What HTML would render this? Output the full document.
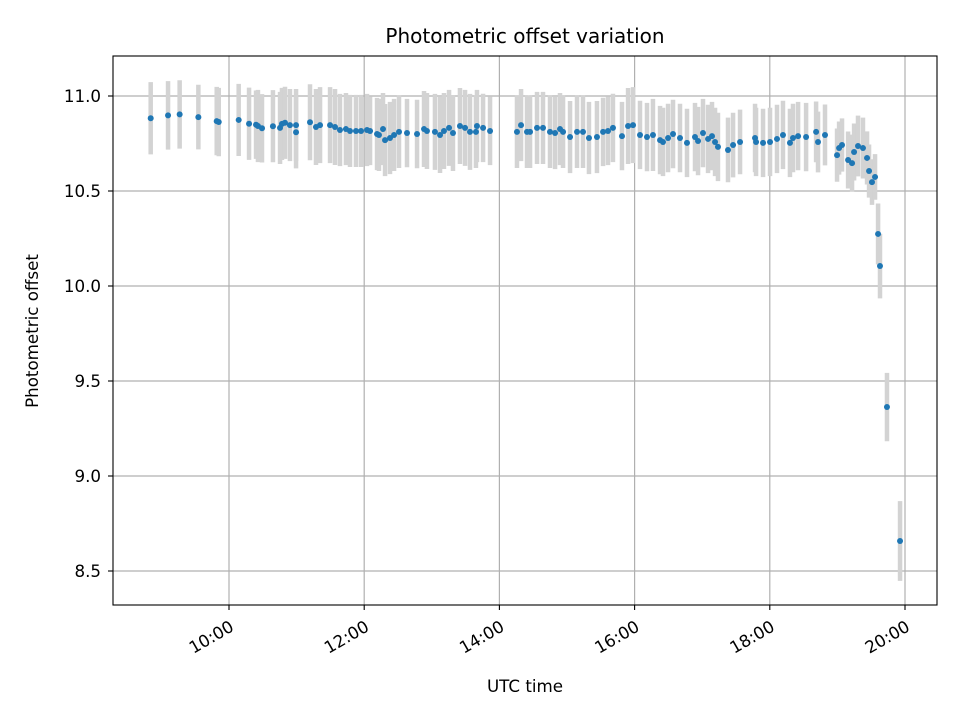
<!DOCTYPE html>
<html><head><meta charset="utf-8"><style>
body{margin:0;background:#fff}
svg{display:block;font-family:"DejaVu Sans","Liberation Sans",sans-serif}
</style></head><body>
<svg id="chart" width="960" height="720" viewBox="0 0 960 720" xmlns="http://www.w3.org/2000/svg">
<rect width="960" height="720" fill="#fff"/>
<g id="grid"></g>
<g id="errs"></g>
<g id="pts"></g>
<rect x="113" y="56" width="824" height="549" fill="none" stroke="#000" stroke-width="1.1"/>
<g id="ticks"></g>
<text x="525" y="43" text-anchor="middle" font-size="20">Photometric offset variation</text>
<text x="525" y="692" text-anchor="middle" font-size="16.7">UTC time</text>
<text transform="translate(38,331) rotate(-90)" text-anchor="middle" font-size="16.7">Photometric offset</text>
</svg>
<script>
// times in minutes since midnight UTC
const times=[530.5,545.9,556.2,572.8,589.1,590.9,608.6,617.8,624.0,625.7,629.3,639.0,645.3,647.0,649.7,654.1,659.5,659.5,671.9,677.2,680.8,689.7,694.1,698.5,703.8,707.4,712.7,717.2,722.5,
725.2,731.4,733.1,736.7,738.5,742.9,746.5,750.9,758.0,766.9,773.1,775.7,782.8,787.3,790.8,795.3,798.8,805.0,809.5,813.9,819.2,820.1,825.5,831.7,
855.6,859.2,864.5,867.2,873.4,878.7,884.9,889.4,893.8,896.5,902.7,908.9,914.2,919.5,926.6,932.0,936.4,940.8,948.8,954.2,958.6,964.8,
971.0,976.3,982.6,985.2,989.7,994.1,1000.3,1006.5,1013.6,1016.3,1020.7,1025.2,1028.7,1031.4,1034.0,1042.9,1047.4,1053.6,1066.9,1067.8,1074.0,1080.2,1086.4,1091.7,1097.9,1100.6,1105.1,1112.2,1121.1,1122.8,1129.0,
1139.7,1141.5,1144.1,1149.5,1153.0,1154.8,1158.3,1162.7,1166.3,1168.1,1170.7,1173.4,1176.1,1177.8,1184.0,1195.6];
const offsets=[10.883,10.898,10.903,10.889,10.868,10.863,10.874,10.854,10.849,10.842,10.830,10.841,10.832,10.853,10.859,10.847,10.847,10.809,10.862,10.837,10.847,10.847,10.837,10.821,10.826,10.816,10.816,10.816,10.821,
10.816,10.800,10.795,10.826,10.768,10.779,10.795,10.811,10.805,10.800,10.826,10.816,10.811,10.795,10.816,10.832,10.805,10.842,10.832,10.811,10.811,10.842,10.832,10.816,
10.811,10.847,10.811,10.811,10.832,10.832,10.811,10.805,10.826,10.811,10.784,10.811,10.811,10.779,10.784,10.811,10.816,10.832,10.789,10.842,10.847,10.795,
10.784,10.795,10.768,10.758,10.779,10.800,10.779,10.753,10.784,10.763,10.805,10.774,10.789,10.758,10.732,10.716,10.742,10.758,10.779,10.758,10.753,10.758,10.774,10.795,10.753,10.779,10.789,10.784,10.811,10.758,10.795,
10.689,10.726,10.742,10.663,10.647,10.705,10.737,10.726,10.674,10.605,10.547,10.574,10.274,10.105,9.363,8.658];
const errors=[0.19,0.18,0.18,0.17,0.18,0.18,0.19,0.19,0.18,0.19,0.18,0.19,0.19,0.19,0.19,0.19,0.19,0.19,0.2,0.2,0.2,0.2,0.2,0.19,0.19,0.19,0.19,0.19,0.19,
0.18,0.19,0.19,0.19,0.19,0.19,0.19,0.19,0.18,0.18,0.2,0.2,0.2,0.2,0.2,0.2,0.2,0.2,0.2,0.2,0.19,0.19,0.18,0.18,
0.19,0.19,0.19,0.19,0.19,0.19,0.19,0.19,0.19,0.19,0.19,0.19,0.19,0.19,0.19,0.18,0.18,0.18,0.18,0.2,0.2,0.18,
0.18,0.19,0.18,0.18,0.18,0.18,0.18,0.18,0.18,0.18,0.18,0.18,0.18,0.18,0.18,0.17,0.17,0.17,0.18,0.18,0.18,0.18,0.18,0.18,0.18,0.18,0.18,0.18,0.16,0.16,0.16,
0.14,0.14,0.14,0.15,0.15,0.15,0.16,0.16,0.14,0.14,0.12,0.12,0.16,0.17,0.18,0.21];
const yTicks=[8.5,9.0,9.5,10.0,10.5,11.0];
const xTicks=[600,720,840,960,1080,1200];
const xTickLabels=["10:00","12:00","14:00","16:00","18:00","20:00"];

const NS="http://www.w3.org/2000/svg";
const X=t=>229+(t-600)*67.6/60;
const Y=v=>96+(11-v)*190;
function mk(tag,attrs,parent){const e=document.createElementNS(NS,tag);for(const k in attrs)e.setAttribute(k,attrs[k]);parent.appendChild(e);return e;}
const grid=document.getElementById('grid'),ticks=document.getElementById('ticks'),errs=document.getElementById('errs'),pts=document.getElementById('pts');
yTicks.forEach(v=>{
  const y=Y(v);
  const g=mk('line',{x1:113,x2:937,y1:y,y2:y,stroke:'#b0b0b0','stroke-width':1.2},grid);
  
  
  mk('line',{x1:108,x2:113,y1:y,y2:y,stroke:'#000','stroke-width':1.1},ticks);
  const t=mk('text',{x:101,y:y+6,'text-anchor':'end','font-size':'16.7'},ticks);
  t.textContent=v.toFixed(1);
  
  
});
xTicks.forEach((m,i)=>{
  const x=X(m);
  const g=mk('line',{x1:x,x2:x,y1:56,y2:605,stroke:'#b0b0b0','stroke-width':1.2},grid);
  
  
  mk('line',{x1:x,x2:x,y1:605,y2:610,stroke:'#000','stroke-width':1.1},ticks);
  const t=mk('text',{'text-anchor':'end','font-size':'16.7',transform:`translate(${x+6},${630}) rotate(-30)`},ticks);
  t.textContent=xTickLabels[i];
  
  
});
times.forEach((m,i)=>{
  const x=X(m),v=offsets[i],e=errors[i];
  const b=mk('line',{x1:x,x2:x,y1:Y(v+e),y2:Y(v-e),stroke:'#d3d3d3','stroke-width':4.5},errs);
  
  
  const c=mk('circle',{cx:x,cy:Y(v),r:3,fill:'#1f77b4'},pts);
  
  
});
</script>
</body></html>
